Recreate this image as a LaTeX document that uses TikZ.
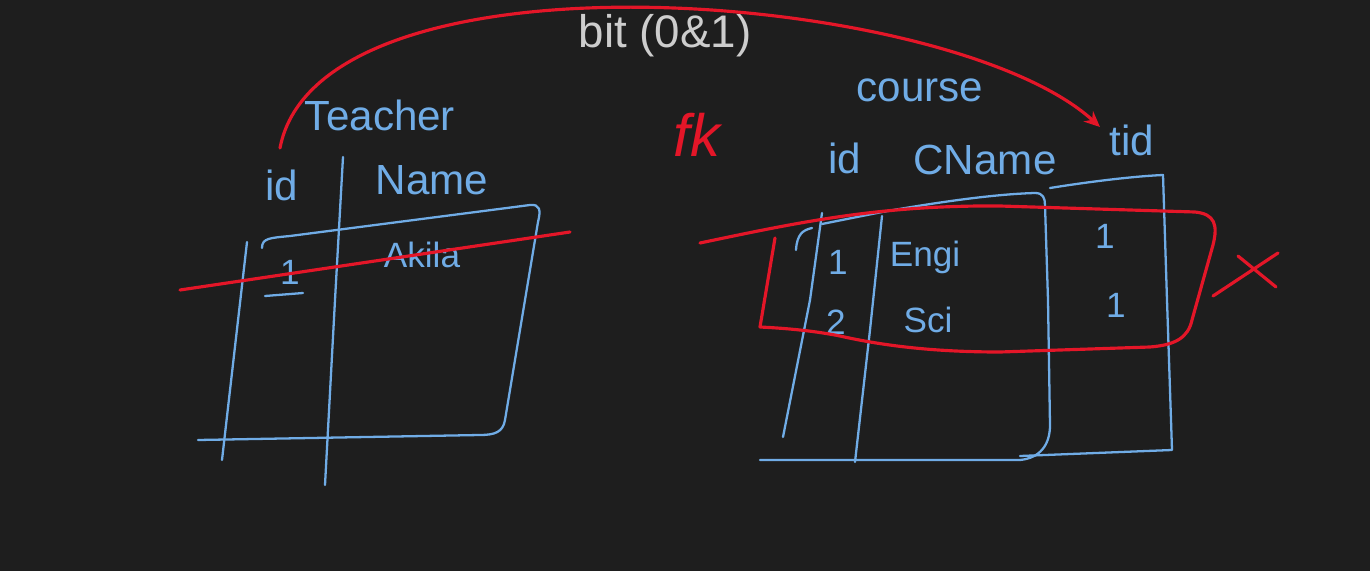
\documentclass[tikz,border=0pt]{standalone}
\usepackage{fontspec}
\setmainfont{Liberation Sans}
\usetikzlibrary{arrows.meta}
\definecolor{board}{RGB}{30,30,30}
\definecolor{chalkblue}{RGB}{112,172,230}
\definecolor{chalkred}{RGB}{228,22,40}
\definecolor{chalkgray}{RGB}{205,205,205}
\begin{document}
\begin{tikzpicture}[x=0.02cm,y=-0.02cm,
  blueline/.style={chalkblue, line width=1.3pt, line cap=round, line join=round},
  redline/.style={chalkred, line width=1.8pt, line cap=round, line join=round},
  bluetext/.style={chalkblue, inner sep=0pt, font=\fontsize{20}{22}\selectfont},
  headtext/.style={chalkblue, inner sep=0pt, font=\fontsize{24}{26}\selectfont}]
\fill[board] (0,0) rectangle (1370,571);
\useasboundingbox (0,0) rectangle (1370,571);
% arc from Teacher id to tid
\node[chalkgray, inner sep=0pt, font=\fontsize{26}{28}\selectfont] (bit) at (665,36) {bit (0\&1)};
\coordinate (arcstart) at (280,148);
\coordinate (arcend) at (1100,127);
\draw[redline, -{Stealth[length=9pt,width=8pt]}] (arcstart) .. controls (320,-60) and (950,-10) .. (arcend);
% LHS: Teacher
\node[headtext] (teacher) at (380,115) {Teacher};
\node[headtext] (tid1) at (282,185) {id};
\node[headtext] (tname) at (432,180) {Name};
\draw[blueline] (343,157) -- (335,300) -- (325,485);
\draw[blueline] (262,248) .. controls (262,238) and (270,238) .. (290,236) -- (530,205) .. controls (540,204) and (541,210) .. (538,222) -- (505,420) .. controls (503,432) and (495,435) .. (480,435) -- (198,440);
\draw[blueline] (247,242) -- (222,460);
\node[bluetext] (trow1) at (290,272) {1};
\draw[blueline] (265,296) -- (303,293);
\node[bluetext] (trow2) at (422,255) {Akila};
\draw[redline] (180,290) -- (570,232);
% fk
\node[chalkred, inner sep=0pt, font=\fontsize{34}{36}\selectfont\itshape] (fk) at (697,135) {fk};
% RHS: Course
\node[headtext] (course) at (920,90) {course};
\node[headtext] (cid) at (845,158) {id};
\node[headtext] (cname) at (985,160) {CName};
\node[headtext] (ctid) at (1132,140) {tid};
\draw[blueline] (796,250) .. controls (797,234) and (803,230) .. (812,228);
\draw[blueline] (822,213) -- (810,300) -- (783,437);
\draw[blueline] (882,216) -- (870,330) -- (855,462);
\draw[blueline] (822,224) -- (882,212) .. controls (950,200) and (1000,194) .. (1035,193) .. controls (1043,193) and (1045,198) .. (1045,205) -- (1048,300) -- (1050,425) .. controls (1050,445) and (1040,458) .. (1020,460) -- (760,460);
\draw[blueline] (1050,188) .. controls (1100,180) and (1140,176) .. (1163,175) -- (1167,300) -- (1172,450) -- (1020,456);
\node[bluetext] (crow1) at (838,262) {1};
\node[bluetext] (crow2) at (925,257) {Engi};
\node[bluetext] (crow3) at (836,322) {2};
\node[bluetext] (crow4) at (928,320) {Sci};
\node[bluetext] (crow5) at (1105,236) {1};
\node[bluetext] (crow6) at (1116,305) {1};
% red enclosure
\draw[redline] (700,243) .. controls (800,222) and (880,205) .. (1000,206) -- (1195,212) .. controls (1215,214) and (1218,225) .. (1213,245) -- (1192,320) .. controls (1188,338) and (1175,345) .. (1150,347) -- (1000,352) .. controls (930,352) and (880,345) .. (840,336) .. controls (810,330) and (780,328) .. (760,327) -- (775,238);
% cross
\draw[redline] (1213,296) -- (1278,253);
\draw[redline] (1238,256) -- (1276,287);
\end{tikzpicture}
\end{document}
